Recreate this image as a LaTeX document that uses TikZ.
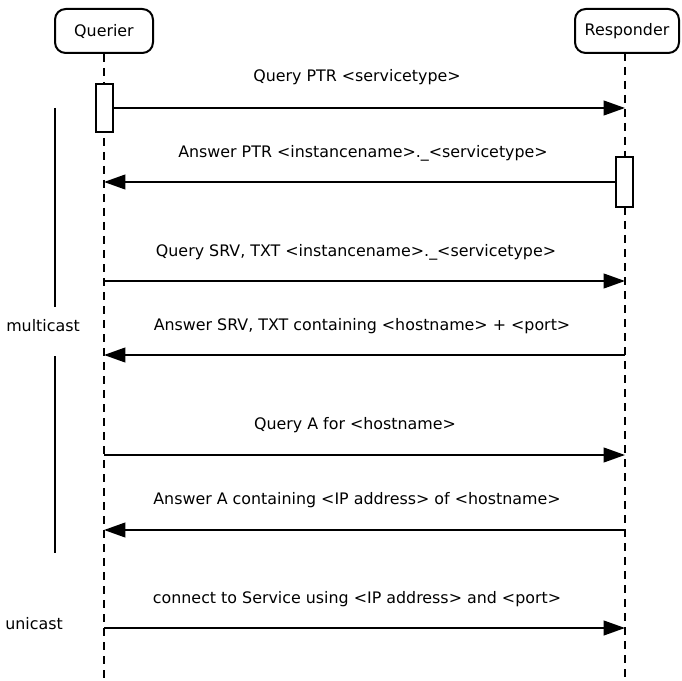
\documentclass[tikz,border=0pt]{standalone}
\usepackage{fontspec}
\setmainfont{DejaVu Sans}
\usetikzlibrary{arrows.meta}
\begin{document}
\begin{tikzpicture}[x=0.75pt,y=-0.75pt,
  font=\fontsize{11.9pt}{14pt}\selectfont,
  actor/.style={draw,line width=1.5pt,rounded corners=8pt,minimum height=33pt,inner sep=0pt},
  act/.style={draw,fill=white,line width=1.5pt,minimum width=12.75pt,inner sep=0pt},
  life/.style={line width=1.1pt,dash pattern=on 6pt off 4.5pt},
  msg/.style={line width=1.5pt,-{Triangle[length=16pt,width=11pt]}},
  lbl/.style={inner sep=0pt,anchor=center}]
\useasboundingbox (0,0) rectangle (682,681);
% actors
\node[actor,minimum width=73.5pt] (q) at (104,31) {Querier};
\node[actor,minimum width=78pt] (r) at (627,31) {Responder};
% lifelines
\coordinate (qend) at (104,678);
\coordinate (rend) at (625,678);
\draw[life] (q.south -| qend) -- (qend);
\draw[life] (625,53) -- (rend);
% activations
\node[act,minimum height=36pt] (qa) at (104.5,108) {};
\node[act,minimum height=37.5pt] (ra) at (624.5,182) {};
% lifeline coordinates
\coordinate (r1) at (625,108);
\coordinate (q2) at (104,182);
\foreach \n/\y in {3/281,4/355,5/455,6/530,7/628}{
  \coordinate (q\n) at (104,\y);
  \coordinate (r\n) at (625,\y);
}
% messages
\draw[msg] (qa.east |- r1) -- (r1);
\draw[msg] (ra.west |- q2) -- (q2);
\draw[msg] (q3) -- (r3);
\draw[msg] (r4) -- (q4);
\draw[msg] (q5) -- (r5);
\draw[msg] (r6) -- (q6);
\draw[msg] (q7) -- (r7);
% labels
\node[lbl] (l1) at (357,77) {Query PTR <servicetype>};
\node[lbl] (l2) at (363,153) {Answer PTR <instancename>.\_<servicetype>};
\node[lbl] (l3) at (356,252) {Query SRV, TXT <instancename>.\_<servicetype>};
\node[lbl] (l4) at (362,326) {Answer SRV, TXT containing <hostname> + <port>};
\node[lbl] (l5) at (355,425) {Query A for <hostname>};
\node[lbl] (l6) at (357,500) {Answer A containing <IP address> of <hostname>};
\node[lbl] (l7) at (357,599) {connect to Service using <IP address> and <port>};
% multicast / unicast
\node[lbl] (mc) at (43,326) {multicast};
\node[lbl] (uc) at (34,624) {unicast};
\coordinate (m1) at (55,108);
\coordinate (m1b) at (55,307);
\coordinate (m2a) at (55,356);
\coordinate (m2) at (55,553);
\draw[line width=1.5pt] (m1) -- (m1b);
\draw[line width=1.5pt] (m2a) -- (m2);
\end{tikzpicture}
\end{document}
